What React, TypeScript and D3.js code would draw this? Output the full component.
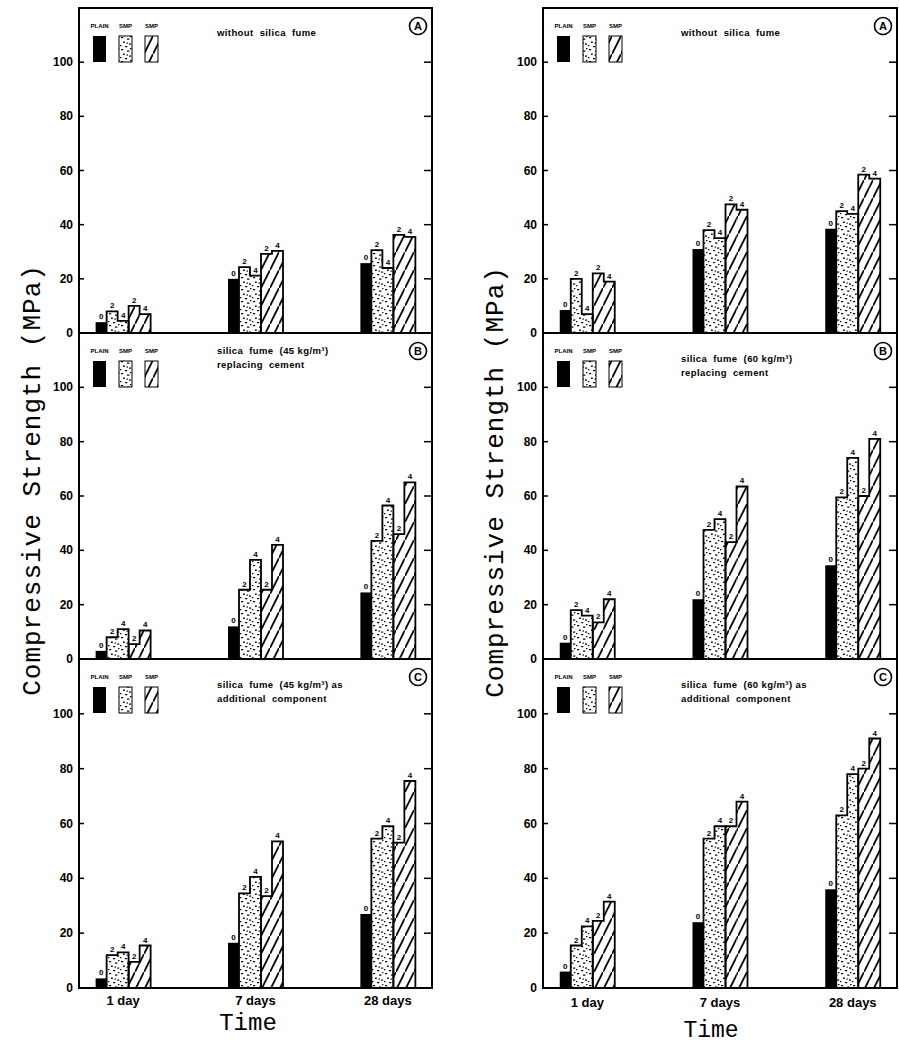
import React from 'react';
import * as d3 from 'd3';

// categories and tick labels
const days = ['1 day', '7 days', '28 days'];
const yTicks = [0, 20, 40, 60, 80, 100];
const dosageLabels = ['0', '2', '4', '2', '4'];
const legendLabels = ['PLAIN', 'SMP', 'SMP'];

// left column (45 kg/m3) — values in MPa
const leftA_plain = [4, 20, 25.8];
const leftA_dot2 = [8, 24.3, 30.6];
const leftA_dot4 = [4.5, 21.2, 24];
const leftA_hat2 = [10, 29.2, 36.2];
const leftA_hat4 = [7, 30.3, 35.5];

const leftB_plain = [3, 12, 24.5];
const leftB_dot2 = [8, 25.5, 43.5];
const leftB_dot4 = [11, 36.5, 56.5];
const leftB_hat2 = [5.5, 25.5, 46];
const leftB_hat4 = [10.5, 42, 65];

const leftC_plain = [3.5, 16.5, 27];
const leftC_dot2 = [12, 34.5, 54.5];
const leftC_dot4 = [13, 40.5, 59];
const leftC_hat2 = [9.5, 33.5, 53];
const leftC_hat4 = [15.5, 53.5, 75.5];

// right column (60 kg/m3)
const rightA_plain = [8.5, 31, 38.5];
const rightA_dot2 = [20, 38, 45];
const rightA_dot4 = [7, 35, 44];
const rightA_hat2 = [22, 47.5, 58.5];
const rightA_hat4 = [19, 45.5, 57];

const rightB_plain = [6, 22, 34.5];
const rightB_dot2 = [18, 47.5, 59.5];
const rightB_dot4 = [16, 51.5, 74];
const rightB_hat2 = [13.5, 43, 60];
const rightB_hat4 = [22, 63.5, 81];

const rightC_plain = [6, 24, 36];
const rightC_dot2 = [15.5, 54.5, 63];
const rightC_dot4 = [22.5, 59, 78];
const rightC_hat2 = [24.5, 59, 80];
const rightC_hat4 = [31.5, 68, 91];

const titleA = ['without  silica  fume'];
const titleB45 = ['silica  fume  (45 kg/m\u00B3)', 'replacing  cement'];
const titleB60 = ['silica  fume  (60 kg/m\u00B3)', 'replacing  cement'];
const titleC45 = ['silica  fume  (45 kg/m\u00B3) as', 'additional  component'];
const titleC60 = ['silica  fume  (60 kg/m\u00B3) as', 'additional  component'];

interface PanelProps {
  x0: number;
  x1: number;
  top: number;
  bottom: number;
  letter: string;
  title: string[];
  titleY: number;
  plain: number[];
  dot2: number[];
  dot4: number[];
  hat2: number[];
  hat4: number[];
  showDays?: boolean;
  dayY?: number;
}

const tickFont = '"Liberation Sans", Arial, sans-serif';

const Panel: React.FC<PanelProps> = ({
  x0, x1, top, bottom, letter, title, titleY, plain, dot2, dot4, hat2, hat4, showDays, dayY = 1005
}) => {
  const x = d3.scalePoint<string>().domain(days).range([x0, x1]).padding(1 / 3);
  const y = d3.scaleLinear().domain([0, 120]).range([bottom, top]);

  const wPlain = 11;
  const wSub = 11;
  const groupW = wPlain + 4 * wSub;

  // stepped outline for a pair of sub-bars
  const stepPath = (xs: number, a: number, b: number) => {
    const p = d3.path();
    p.moveTo(xs, y(0));
    p.lineTo(xs, y(a));
    p.lineTo(xs + wSub, y(a));
    p.lineTo(xs + wSub, y(b));
    p.lineTo(xs + 2 * wSub, y(b));
    p.lineTo(xs + 2 * wSub, y(0));
    return p.toString();
  };

  return (
    <g>
      {/* bars */}
      {days.map((d, i) => {
        const gx = (x(d) as number) - groupW / 2;
        const dx = gx + wPlain;
        const hx = dx + 2 * wSub;
        const vals = [plain[i], dot2[i], dot4[i], hat2[i], hat4[i]];
        const lx = [gx + wPlain / 2, dx + wSub / 2, dx + wSub * 1.5, hx + wSub / 2, hx + wSub * 1.5];
        return (
          <g key={d}>
            <rect x={gx} y={y(plain[i])} width={wPlain} height={y(0) - y(plain[i])} fill="#000" />
            <rect x={dx} y={y(dot2[i])} width={wSub} height={y(0) - y(dot2[i])} fill="url(#dots)" />
            <rect x={dx + wSub} y={y(dot4[i])} width={wSub} height={y(0) - y(dot4[i])} fill="url(#dots)" />
            <rect x={hx} y={y(hat2[i])} width={wSub} height={y(0) - y(hat2[i])} fill="url(#hatch)" />
            <rect x={hx + wSub} y={y(hat4[i])} width={wSub} height={y(0) - y(hat4[i])} fill="url(#hatch)" />
            <path d={stepPath(dx, dot2[i], dot4[i])} fill="none" stroke="#000" strokeWidth={1.8} />
            <path d={stepPath(hx, hat2[i], hat4[i])} fill="none" stroke="#000" strokeWidth={1.8} />
            {dosageLabels.map((t, k) => (
              <text key={k} x={lx[k]} y={y(vals[k]) - 3} textAnchor="middle" fill="#000"
                fontFamily={tickFont} fontWeight="bold" fontSize={8}>{t}</text>
            ))}
            {showDays && (
              <text x={x(d) as number} y={dayY} textAnchor="middle"
                fontFamily={tickFont} fontWeight="bold" fontSize={13}>{d}</text>
            )}
          </g>
        );
      })}

      {/* frame */}
      <rect x={x0} y={top} width={x1 - x0} height={bottom - top} fill="none" stroke="#000" strokeWidth={2} />

      {/* y ticks */}
      {yTicks.map(t => (
        <g key={t}>
          <line x1={x0} x2={x0 + 5} y1={y(t)} y2={y(t)} stroke="#000" strokeWidth={1.5} />
          {t > 0 && <line x1={x1 - 8} x2={x1} y1={y(t)} y2={y(t)} stroke="#000" strokeWidth={1.5} />}
          <text x={x0 - 6} y={y(t) + 4} textAnchor="end"
            fontFamily={tickFont} fontWeight="bold" fontSize={12}>{t}</text>
        </g>
      ))}

      {/* legend */}
      {legendLabels.map((l, k) => {
        const lxs = x0 + 14 + k * 26;
        const fill = k === 0 ? '#000' : k === 1 ? 'url(#dots)' : 'url(#hatch)';
        return (
          <g key={k}>
            <text x={lxs + 6.5} y={top + 20} textAnchor="middle" fontFamily={tickFont}
              fontWeight="bold" fontSize={6}>{l}</text>
            <rect x={lxs} y={top + 28} width={13} height={26} fill={fill}
              stroke="#000" strokeWidth={k === 0 ? 0 : 1} />
          </g>
        );
      })}

      {/* panel title */}
      {title.map((t, k) => (
        <text key={k} x={x0 + 138} y={top + titleY + 3 + k * 14} fontFamily={tickFont}
          fontWeight="bold" fontSize={9.5} letterSpacing={0.4} style={{ whiteSpace: 'pre' }}>{t}</text>
      ))}

      {/* panel letter */}
      <circle cx={x1 - 14} cy={top + 18} r={8.5} fill="#fff" stroke="#000" strokeWidth={1.6} />
      <text x={x1 - 14} y={top + 22} textAnchor="middle" fontFamily={tickFont}
        fontWeight="bold" fontSize={11}>{letter}</text>
    </g>
  );
};

export default function App() {
  const rows = [8, 333, 659, 988];
  const left = { x0: 79, x1: 432 };
  const right = { x0: 543, x1: 897 };
  const monoFont = '"Liberation Mono", "Courier New", monospace';

  return (
    <svg width={899} height={1045} style={{ position: 'absolute', left: 0, top: 0, background: '#fff' }}>
      <defs>
        <pattern id="dots" patternUnits="userSpaceOnUse" width={12} height={12}>
          <rect width={12} height={12} fill="#fff" />
          <rect x={1} y={1} width={2.2} height={1.2} fill="#000" />
          <rect x={7} y={2.5} width={2.4} height={1.2} fill="#000" />
          <rect x={3} y={5.5} width={1.8} height={1.4} fill="#000" />
          <rect x={9} y={7.5} width={2.2} height={1.2} fill="#000" />
          <rect x={5} y={10} width={2.2} height={1.2} fill="#000" />
          <rect x={0} y={9} width={1.4} height={1.2} fill="#000" />
          <rect x={10} y={0} width={1.4} height={1.2} fill="#000" />
          <rect x={6.5} y={6.5} width={1.4} height={1.2} fill="#000" />
        </pattern>
        <pattern id="hatch" patternUnits="userSpaceOnUse" width={9} height={18}>
          <rect width={9} height={18} fill="#fff" />
          <line x1={-1} y1={20} x2={10} y2={-2} stroke="#000" strokeWidth={1.8} />
        </pattern>
      </defs>

      <Panel {...left} top={rows[0]} bottom={rows[1]} letter="A" title={titleA} titleY={25}
        plain={leftA_plain} dot2={leftA_dot2} dot4={leftA_dot4} hat2={leftA_hat2} hat4={leftA_hat4} />
      <Panel {...left} top={rows[1]} bottom={rows[2]} letter="B" title={titleB45} titleY={18}
        plain={leftB_plain} dot2={leftB_dot2} dot4={leftB_dot4} hat2={leftB_hat2} hat4={leftB_hat4} />
      <Panel {...left} top={rows[2]} bottom={rows[3]} letter="C" title={titleC45} titleY={26}
        plain={leftC_plain} dot2={leftC_dot2} dot4={leftC_dot4} hat2={leftC_hat2} hat4={leftC_hat4}
        showDays dayY={1005} />

      <Panel {...right} top={rows[0]} bottom={rows[1]} letter="A" title={titleA} titleY={25}
        plain={rightA_plain} dot2={rightA_dot2} dot4={rightA_dot4} hat2={rightA_hat2} hat4={rightA_hat4} />
      <Panel {...right} top={rows[1]} bottom={rows[2]} letter="B" title={titleB60} titleY={26}
        plain={rightB_plain} dot2={rightB_dot2} dot4={rightB_dot4} hat2={rightB_hat2} hat4={rightB_hat4} />
      <Panel {...right} top={rows[2]} bottom={rows[3]} letter="C" title={titleC60} titleY={26}
        plain={rightC_plain} dot2={rightC_dot2} dot4={rightC_dot4} hat2={rightC_hat2} hat4={rightC_hat4}
        showDays dayY={1007} />

      {/* axis titles */}
      <text transform="translate(40,480) rotate(-90)" textAnchor="middle" fontFamily={monoFont}
        fontSize={26} letterSpacing={1}>Compressive Strength (MPa)</text>
      <text transform="translate(503,482) rotate(-90)" textAnchor="middle" fontFamily={monoFont}
        fontSize={26} letterSpacing={1}>Compressive Strength (MPa)</text>
      <text x={248} y={1030} textAnchor="middle" fontFamily={monoFont} fontSize={24}>Time</text>
      <text x={711} y={1037} textAnchor="middle" fontFamily={monoFont} fontSize={23}>Time</text>
    </svg>
  );
}
